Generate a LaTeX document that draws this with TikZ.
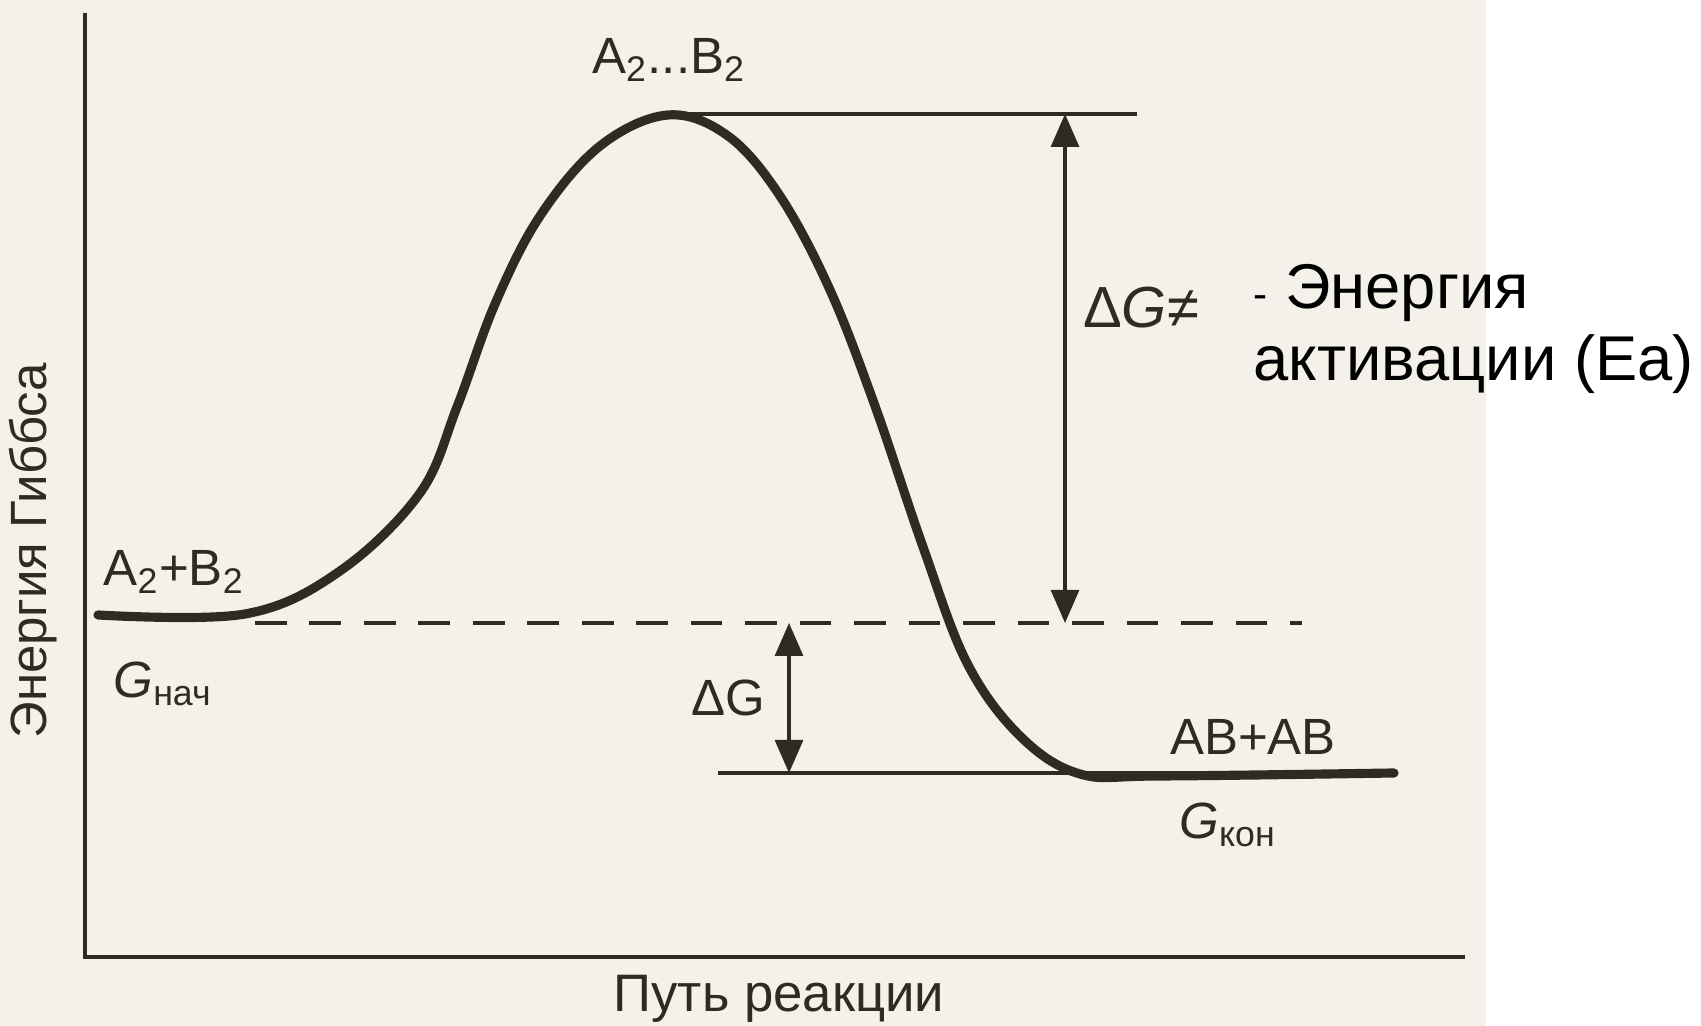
\documentclass[tikz,border=0pt]{standalone}
\usepackage{fontspec}
\setmainfont{Liberation Sans}
\usepackage{xcolor}
\definecolor{ink}{RGB}{46,42,36}
\definecolor{paper}{RGB}{244,241,234}
\usetikzlibrary{arrows.meta,positioning}

\tikzset{
  axisline/.style={draw=ink, line width=1.3pt},
  levelline/.style={draw=ink, line width=1.1pt},
  refline/.style={draw=ink, line width=1.1pt, dash pattern=on 9pt off 6.5pt},
  pathcurve/.style={draw=ink, line width=2.6pt, line cap=round, line join=round},
  gaparrow/.style={draw=ink, line width=0.9pt,
    {Triangle[length=3.3mm,width=2.8mm]}-{Triangle[length=3.3mm,width=2.8mm]}},
  lbl/.style={text=ink, inner sep=0pt, font=\fontsize{14.5}{17}\selectfont},
  note/.style={text=black, inner sep=0pt, align=left,
    font=\fontsize{18}{20.5}\selectfont},
}

\begin{document}
\begin{tikzpicture}
\useasboundingbox (0,0) rectangle (17.01,10.26);
% scanned page
\fill[paper] (0,0) rectangle (14.86,10.26);

% axes
\coordinate (origin) at (0.85,0.69);
\coordinate (ytop) at (0.85,10.13);
\coordinate (xend) at (14.65,0.69);
\draw[axisline] (ytop) -- (origin) -- (xend);
\node[lbl, rotate=90, font=\fontsize{14.5}{17}\selectfont] (ylabel) at (0.33,4.75) {Энергия Гиббса};
\node[lbl, font=\fontsize{15}{18}\selectfont] (xlabel) at (7.79,0.27) {Путь реакции};

% levels
\coordinate (peak) at (6.73,9.12);
\coordinate (peakend) at (11.37,9.12);
\coordinate (refstart) at (2.55,4.03);
\coordinate (refend) at (13.02,4.03);
\coordinate (endstart) at (7.18,2.53);
\coordinate (endend) at (13.94,2.53);
\draw[levelline] (peak) -- (peakend);
\draw[refline] (refstart) -- (refend);
\draw[levelline] (endstart) -- (endend);

% reaction path
\draw[pathcurve] plot[smooth, tension=0.6] coordinates {
  (0.98,4.11) (2.45,4.12) (3.40,4.55) (4.20,5.33)
  (4.57,6.19) (4.95,7.22) (5.40,8.10) (6.00,8.80) (6.68,9.11)
  (7.28,8.90) (7.80,8.30) (8.30,7.36) (8.75,6.20) (9.23,4.79)
  (9.67,3.63) (10.20,2.90) (10.80,2.52) (11.60,2.50) (13.94,2.53)};

% energy gaps
\coordinate (actop) at (10.65,9.12);
\coordinate (acbot) at (10.65,4.03);
\coordinate (dgtop) at (7.89,4.03);
\coordinate (dgbot) at (7.89,2.53);
\draw[gaparrow] (acbot) -- (actop);
\draw[gaparrow] (dgbot) -- (dgtop);

% labels
\node[lbl] (ts) at (6.69,9.66) {A\textsubscript{2}...B\textsubscript{2}};
\node[lbl] (react) at (1.74,4.54) {A\textsubscript{2}+B\textsubscript{2}};
\node[lbl] (gstart) at (1.63,3.42) {\textit{G}\textsubscript{нач}};
\node[lbl] (dg) at (7.28,3.28) {ΔG};
\node[lbl, font=\fontsize{16.5}{19}\selectfont] (dgact) at (11.41,7.18) {Δ\textit{G}≠};
\node[lbl] (prod) at (12.53,2.89) {AB+AB};
\node[lbl] (gend) at (12.28,2.01) {\textit{G}\textsubscript{кон}};
\node[note, anchor=north west] (eanote) at (12.53,7.62)
  {{\fontsize{12}{14}\selectfont -} Энергия\\активации (Ea)};
\end{tikzpicture}
\end{document}
